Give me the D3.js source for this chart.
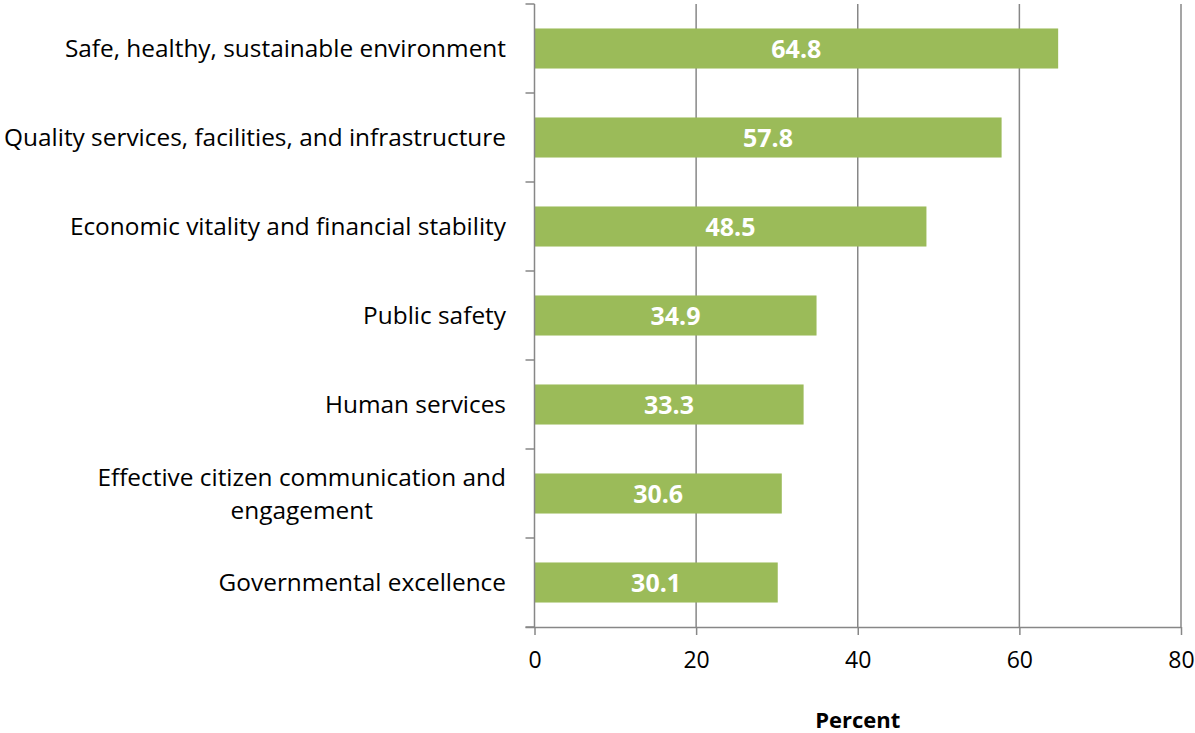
<!DOCTYPE html>
<html><head><meta charset="utf-8">
<script src="https://cdn.jsdelivr.net/npm/d3@7"></script>
<style>body{margin:0;background:#fff}svg{display:block}text{font-family:"Open Sans",sans-serif}</style>
</head><body>
<script>
const categories = [
  ["Safe, healthy, sustainable environment"],
  ["Quality services, facilities, and infrastructure"],
  ["Economic vitality and financial stability"],
  ["Public safety"],
  ["Human services"],
  ["Effective citizen communication and", "engagement"],
  ["Governmental excellence"]
];
const values = [64.8, 57.8, 48.5, 34.9, 33.3, 30.6, 30.1];
const xTicks = [0, 20, 40, 60, 80];
const xTitle = "Percent";

const W = 1195, H = 733;
const svg = d3.select("body").append("svg").attr("width", W).attr("height", H);
const x = d3.scaleLinear().domain([0, 80]).range([534.5, 1181]);
const keys = categories.map((c, i) => i);
const y = d3.scaleBand().domain(keys).range([4, 627]).paddingInner(0.55).paddingOuter(0.275);
const grid = "#878787";

svg.selectAll("line.grid").data(xTicks.slice(1)).join("line")
  .attr("x1", d => x(d)).attr("x2", d => x(d)).attr("y1", 4).attr("y2", 627)
  .attr("stroke", grid).attr("stroke-width", 1.5);

svg.selectAll("rect.bar").data(values).join("rect")
  .attr("x", x(0)).attr("y", (d, i) => y(i)).attr("width", d => x(d) - x(0))
  .attr("height", y.bandwidth()).attr("fill", "#9BBB59");

svg.selectAll("text.val").data(values).join("text")
  .attr("x", d => (x(0) + x(d)) / 2).attr("y", (d, i) => y(i) + y.bandwidth() / 2)
  .attr("dy", "0.36em").attr("text-anchor", "middle")
  .attr("fill", "#fff").attr("font-weight", "bold").attr("font-size", 25)
  .text(d => d.toFixed(1));

const xAxis = d3.axisBottom(x).tickValues(xTicks).tickSize(8).tickPadding(17).tickFormat(d3.format("d"));
const gx = svg.append("g").attr("transform", "translate(0,627)").call(xAxis);
gx.select(".domain").attr("stroke", grid).attr("stroke-width", 1.5).attr("d", `M${x(0) - 9},0.5H${x(80)}`);
gx.selectAll(".tick line").attr("stroke", grid).attr("stroke-width", 1.5);
gx.selectAll(".tick text").attr("font-size", 23).attr("fill", "#000").attr("font-family", "Open Sans");

svg.append("line").attr("x1", x(0)).attr("x2", x(0)).attr("y1", 4).attr("y2", 627)
  .attr("stroke", grid).attr("stroke-width", 1.5);
const bounds = d3.range(categories.length + 1).map(i => 4 + i * y.step());
svg.selectAll("line.ytick").data(bounds).join("line")
  .attr("x1", x(0) - 9).attr("x2", x(0)).attr("y1", d => d).attr("y2", d => d)
  .attr("stroke", grid).attr("stroke-width", 1.5);

const lh = 33;
categories.forEach((lines, i) => {
  const cy = y(i) + y.bandwidth() / 2;
  const t = svg.append("text").attr("font-size", 24.4).attr("fill", "#000");
  const n = lines.length;
  lines.forEach((ln, j) => {
    t.append("tspan").attr("y", cy + (j - (n - 1) / 2) * lh).attr("dy", "0.36em").text(ln);
  });
  const tsp = t.selectAll("tspan").nodes();
  const maxW = d3.max(tsp.map(s => s.getComputedTextLength()));
  const right = 506;
  tsp.forEach(s => d3.select(s).attr("x", right - maxW / 2).attr("text-anchor", "middle"));
});

svg.append("text").attr("x", x(40)).attr("y", 720).attr("dy", "0.36em")
  .attr("text-anchor", "middle").attr("font-weight", "bold").attr("font-size", 22).text(xTitle);
</script>
</body></html>
